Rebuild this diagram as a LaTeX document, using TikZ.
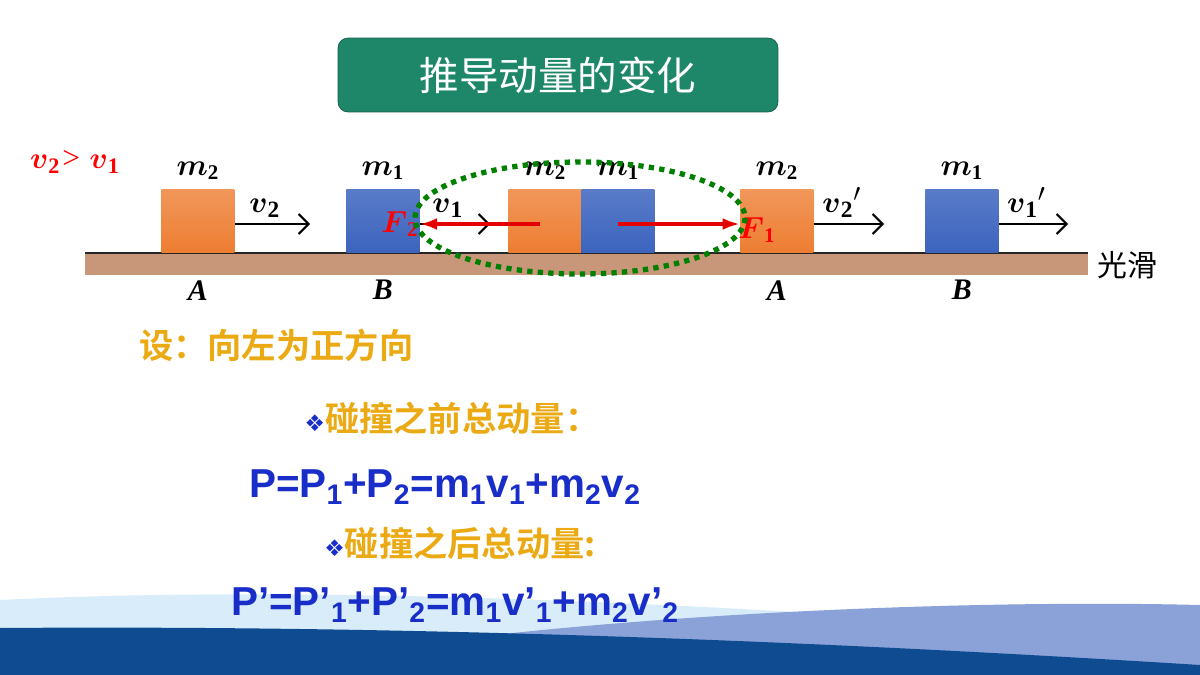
\documentclass[tikz,border=0pt]{standalone}
\usepackage{fontspec}
\usepackage{amsmath}
\setmainfont{Liberation Serif}
\newfontfamily\cjk{Noto Sans CJK SC}
\newfontfamily\cjkbf{Noto Sans CJK SC Bold}
\newfontfamily\formfont{Liberation Sans}
\newfontfamily\symfont{DejaVu Sans}
\usetikzlibrary{positioning,arrows.meta,shapes.geometric}
\definecolor{titlegreen}{RGB}{30,135,105}
\definecolor{blockorange}{RGB}{237,125,49}
\definecolor{blockblue}{RGB}{60,100,190}
\definecolor{gold}{RGB}{235,170,20}
\definecolor{formblue}{RGB}{25,45,200}
\definecolor{ground}{RGB}{200,150,120}
\definecolor{deepblue}{RGB}{15,75,145}
\definecolor{paleblue}{RGB}{190,225,245}
\tikzset{
	>={Straight Barb[length=2mm]},
	oblock/.style={rectangle, draw=none, top color=blockorange!80!white, bottom color=blockorange, minimum width=1.46cm, minimum height=1.26cm, anchor=south west, inner sep=0},
	bblock/.style={oblock, top color=blockblue!85!white, bottom color=blockblue},
	mlabel/.style={font=\fontsize{17}{19}\selectfont\bfseries\itshape},
	vlabel/.style={font=\fontsize{19}{21}\selectfont\bfseries\itshape},
	vel/.style={->, black, line width=1.2pt},
	force/.style={-{Latex[length=3.5mm,width=2.4mm]}, red!90!black, line width=2.2pt},
	ftext/.style={font=\fontsize{17}{19}\selectfont\bfseries\itshape, text=red},
	cntext/.style={font=\cjkbf\fontsize{19.5}{22}\selectfont, text=gold},
	formula/.style={font=\formfont\fontsize{23}{26}\selectfont\bfseries, text=formblue},
}
\begin{document}
\begin{tikzpicture}[x=0.02cm,y=-0.02cm]
	\useasboundingbox (0,0) rectangle (1200,675);
	% bottom waves
	\fill[paleblue!60] (0,600) .. controls (300,585) and (700,600) .. (1200,640) -- (1200,675) -- (0,675) -- cycle;
	\fill[blockblue!60] (450,640) .. controls (700,610) and (1000,600) .. (1200,605) -- (1200,675) -- (450,675) -- cycle;
	\fill[deepblue] (0,628) .. controls (400,625) and (800,640) .. (1200,665) -- (1200,675) -- (0,675) -- cycle;
	% title
	\node[rectangle, rounded corners=2mm, fill=titlegreen, draw=titlegreen!70!black, minimum width=8.8cm, minimum height=1.48cm, text=white, font=\cjk\fontsize{22.5}{25}\selectfont] (title) at (558,75) {推导动量的变化};
	\node[text=red, font=\fontsize{18}{20}\selectfont\itshape] (cond) at (75,162) {$\boldsymbol{v}_{\mathbf 2}$> $\boldsymbol{v}_{\mathbf 1}$};
	% ground
	\fill[ground] (85,253) rectangle (1088,275);
	\draw[line width=1.5pt, black!85] (85,253) coordinate (gl) -- (1088,253) coordinate (gr);
	\node[font=\cjk\fontsize{17}{19}\selectfont, right=2pt of gr, yshift=-0.25cm] (smooth) {光滑};
	% blocks
	\node[oblock] (A) at (161,253) {};
	\node[bblock] (B) at (346,253) {};
	\node[oblock] (cA) at (508,253) {};
	\node[bblock] (cB) at (581,253) {};
	\node[oblock] (A2) at (740,253) {};
	\node[bblock] (B2) at (925,253) {};
	\foreach \b/\m in {A/2,B/1,cA/2,cB/1,A2/2,B2/1}
	\node[mlabel, above=2pt of \b.north] (m\b) {$\boldsymbol{m}_{\mathbf \m}$};
	\foreach \b/\l in {A/A,B/B,A2/A,B2/B}
	\node[mlabel, below=12pt of \b.south] (l\b) {\l};
	% velocities
	\coordinate (v2e) at (310,224);
	\coordinate (v1e) at (490,224);
	\coordinate (v2pe) at (884,224);
	\coordinate (v1pe) at (1068,224);
	\draw[vel] (A.east |- v2e) -- node[vlabel, above, pos=0.4] {$\boldsymbol{v}_{\mathbf 2}$} (v2e);
	\draw[vel] (B.east |- v1e) -- node[vlabel, above, pos=0.4] {$\boldsymbol{v}_{\mathbf 1}$} (v1e);
	\draw[vel] (A2.east |- v2pe) -- node[vlabel, above, pos=0.4] {$\boldsymbol{v}_{\mathbf 2}{}'$} (v2pe);
	\draw[vel] (B2.east |- v1pe) -- node[vlabel, above, pos=0.4] {$\boldsymbol{v}_{\mathbf 1}{}'$} (v1pe);
	% forces
	\coordinate (f2s) at (540,224);
	\coordinate (f1s) at (618,224);
	\draw[force] (f2s) -- (B.east |- f2s);
	\draw[force] (f1s) -- (A2.west |- f1s);
	\node[ftext] (F2) at (400,224) {$\boldsymbol{F}_{\mathbf 2}$};
	\node[ftext] (F1) at (757,230) {$\boldsymbol{F}_{\mathbf 1}$};
	% interaction zone
	\draw[green!50!black, line width=3pt, dash pattern=on 3pt off 3pt] (580,218) ellipse [x radius=165, y radius=56];
	% text
	\node[cntext, anchor=west] (assume) at (133,345) {设：向左为正方向};
	\node[cntext] (before) at (452,418) {{\symfont\color{formblue}\fontsize{13}{14}\selectfont ❖}碰撞之前总动量：};
	\node[formula] (pbefore) at (445,487) {P=P\textsubscript{1}+P\textsubscript{2}=m\textsubscript{1}v\textsubscript{1}+m\textsubscript{2}v\textsubscript{2}};
	\node[cntext] (after) at (460,543) {{\symfont\color{formblue}\fontsize{13}{14}\selectfont ❖}碰撞之后总动量:};
	\node[formula] (pafter) at (455,605) {P’=P’\textsubscript{1}+P’\textsubscript{2}=m\textsubscript{1}v’\textsubscript{1}+m\textsubscript{2}v’\textsubscript{2}};
\end{tikzpicture}
\end{document}
